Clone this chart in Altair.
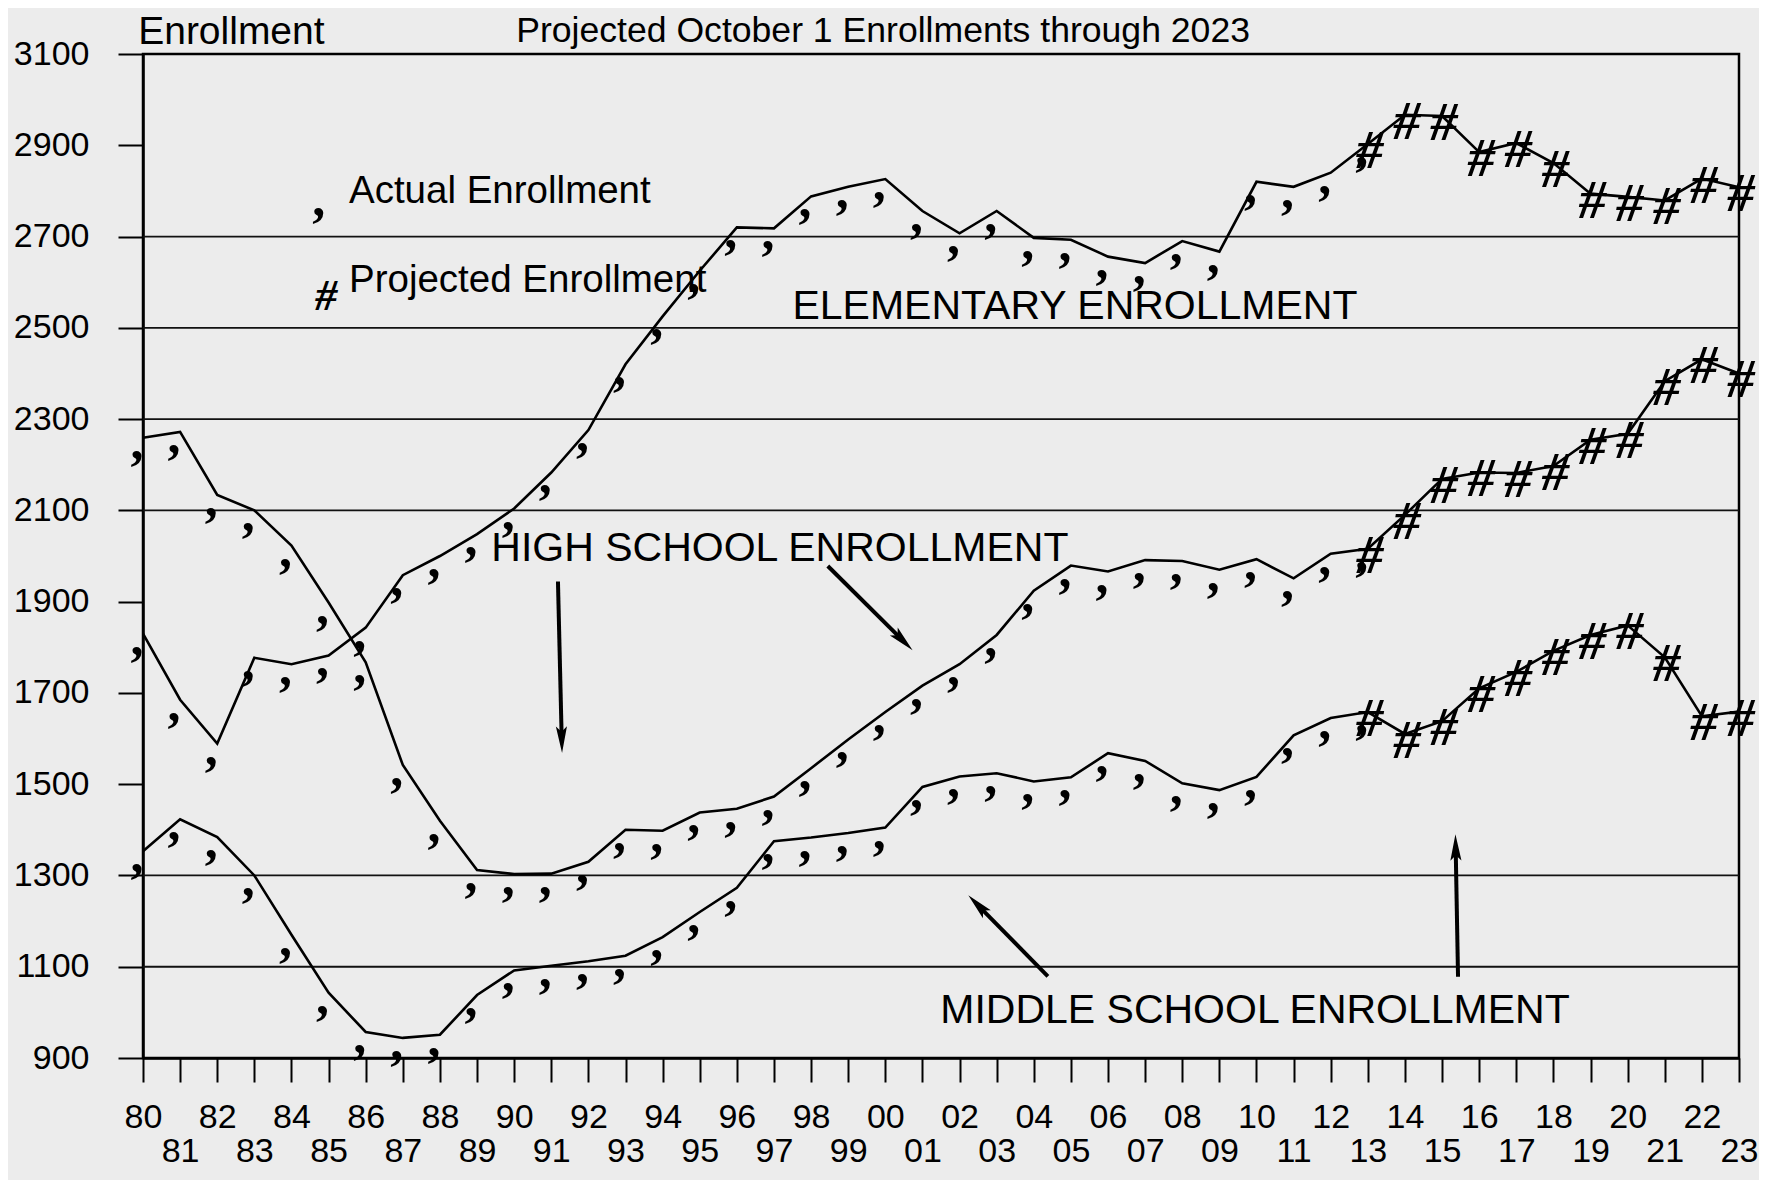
import math
import altair as alt
import pandas as pd

# ---------------- data ----------------
years = list(range(1980, 2024))

elementary = [1830, 1685, 1589, 1777, 1763, 1782, 1843, 1958, 2000, 2048,
              2104, 2183, 2276, 2420, 2525, 2625, 2720, 2718, 2788, 2809,
              2826, 2756, 2707, 2756, 2697, 2693, 2656, 2642, 2690, 2667,
              2820, 2809, 2840, 2903, 2967, 2964, 2885, 2905, 2861, 2794,
              2787, 2779, 2827, 2808]

high_school = [2259, 2272, 2134, 2100, 2023, 1898, 1767, 1542, 1420, 1312,
               1303, 1304, 1330, 1400, 1398, 1438, 1446, 1473, 1535, 1598,
               1658, 1716, 1763, 1827, 1924, 1979, 1966, 1991, 1989, 1970,
               1993, 1951, 2005, 2016, 2090, 2169, 2183, 2182, 2197, 2255,
               2268, 2383, 2431, 2400]

middle_school = [1353, 1423, 1384, 1300, 1170, 1043, 957, 944, 951, 1038,
                 1092, 1102, 1112, 1124, 1165, 1220, 1273, 1375, 1383, 1393,
                 1405, 1494, 1517, 1524, 1506, 1515, 1568, 1551, 1502, 1487,
                 1516, 1607, 1645, 1658, 1610, 1638, 1710, 1746, 1792, 1827,
                 1848, 1778, 1649, 1659]

last_actual_year = 2013
first_projected_year = 2013

y_ticks = list(range(900, 3101, 200))
grid_values = [1100, 1300, 2100, 2300, 2500, 2700]

label_text = ["ELEMENTARY ENROLLMENT", "HIGH SCHOOL ENROLLMENT", "MIDDLE SCHOOL ENROLLMENT"]
label_year = [2005.11, 1997.16, 2009.96]
label_value = [2519, 1989, 977]

legend_text = ["Actual Enrollment", "Projected Enrollment"]
legend_text_year = [1985.55, 1985.55]
legend_text_value = [2774, 2579]
legend_marker = [",", "#"]
legend_marker_year = [1984.90, 1984.88]
legend_marker_value = [2790, 2587]

header_text = ["Enrollment", "Projected October 1 Enrollments through 2023"]
header_year = [1979.87, 1999.94]
header_value = [3122, 3126]
header_align = ["left", "center"]

arrow_tail_year = [1991.18, 1998.45, 2004.38, 2015.43]
arrow_tail_value = [1944, 1978, 1079, 1078]
arrow_tip_year = [1991.29, 2000.73, 2002.24, 2015.36]
arrow_tip_value = [1569, 1794, 1256, 1390]

# ---------------- layout ----------------
W, H = 1596, 1004
X_DOMAIN = [1980, 2023]
Y_DOMAIN = [900, 3100]
px_per_year = W / (X_DOMAIN[1] - X_DOMAIN[0])
px_per_unit = H / (Y_DOMAIN[1] - Y_DOMAIN[0])

SANS = "Liberation Sans"
SERIF = "Liberation Serif"

# ---------------- tables ----------------
series_names = ["Elementary", "High School", "Middle School"]
series_vals = [elementary, high_school, middle_school]
rows = []
for name, vals in zip(series_names, series_vals):
    for yr, v in zip(years, vals):
        rows.append({"series": name, "year": yr, "value": v})
df = pd.DataFrame(rows)
df_actual = df[df["year"] <= last_actual_year]
df_proj = df[df["year"] >= first_projected_year]

df_grid = pd.DataFrame({"value": grid_values})
df_labels = pd.DataFrame({"text": label_text, "year": label_year, "value": label_value})
df_leg_text = pd.DataFrame({"text": legend_text, "year": legend_text_year, "value": legend_text_value})
df_leg_mark = pd.DataFrame({"text": legend_marker, "year": legend_marker_year, "value": legend_marker_value})
df_header = pd.DataFrame({"text": header_text, "year": header_year, "value": header_value,
                          "align": header_align})

HEAD_HALF = 13.0
arrows = []
for ty, tv, hy, hv in zip(arrow_tail_year, arrow_tail_value, arrow_tip_year, arrow_tip_value):
    dx = (hy - ty) * px_per_year
    dy = -(hv - tv) * px_per_unit
    L = math.hypot(dx, dy)
    ux, uy = dx / L, dy / L
    ang = math.degrees(math.atan2(ux, -uy)) % 360
    cy = hy - HEAD_HALF * ux / px_per_year
    cv = hv + HEAD_HALF * uy / px_per_unit
    arrows.append({"year": ty, "value": tv, "year2": cy, "value2": cv, "angle": ang})
df_arrows = pd.DataFrame(arrows)

# ---------------- scales / axes ----------------
x_scale = alt.Scale(domain=X_DOMAIN, nice=False, zero=False)
y_scale = alt.Scale(domain=Y_DOMAIN, nice=False, zero=False)

x_axis = alt.Axis(
    values=years,
    labelExpr="substring(toString(datum.value), 2, 4)",
    tickSize=24, tickWidth=2, tickColor="black",
    domainColor="black", domainWidth=2.5,
    labelFont=SANS, labelFontSize=34, labelColor="black",
    labelOverlap=False, labelFlush=False,
    labelPadding={"condition": {"test": "datum.value % 2 == 1", "value": 52}, "value": 18},
    grid=False, title=None,
)
y_axis = alt.Axis(
    values=y_ticks, format="d",
    tickSize=25, tickWidth=2, tickColor="black",
    domainColor="black", domainWidth=2.5,
    labelFont=SANS, labelFontSize=34, labelColor="black", labelPadding=29,
    labelOverlap=False, grid=False, title=None,
)

X = alt.X("year:Q", scale=x_scale, axis=x_axis)
Y = alt.Y("value:Q", scale=y_scale, axis=y_axis)

grid = alt.Chart(df_grid).mark_rule(color="#111111", strokeWidth=1.8).encode(y=Y)

lines = alt.Chart(df).mark_line(color="black", strokeWidth=2.6, strokeJoin="miter").encode(
    x=X, y=Y, detail="series:N",
)

commas = alt.Chart(df_actual).mark_text(
    text=",", font=SERIF, fontWeight="bold", fontSize=52, color="black",
    align="center", baseline="alphabetic", dx=-6, dy=21,
).encode(x=X, y=Y)

hashes = alt.Chart(df_proj).mark_text(
    text="#", font=SERIF, fontWeight="bold", fontStyle="italic", fontSize=54, color="black",
    align="center", baseline="alphabetic", dx=2, dy=24,
).encode(x=X, y=Y)

labels = alt.Chart(df_labels).mark_text(
    font=SANS, fontSize=41, color="black", align="center", baseline="alphabetic",
).encode(x=X, y=Y, text="text:N")

leg_text = alt.Chart(df_leg_text).mark_text(
    font=SANS, fontSize=38.5, color="black", align="left", baseline="alphabetic",
).encode(x=X, y=Y, text="text:N")

leg_comma = alt.Chart(df_leg_mark[df_leg_mark["text"] == ","]).mark_text(
    font=SERIF, fontWeight="bold", fontSize=52, color="black",
    align="center", baseline="alphabetic", dx=-6, dy=21,
).encode(x=X, y=Y, text="text:N")

leg_hash = alt.Chart(df_leg_mark[df_leg_mark["text"] == "#"]).mark_text(
    font=SERIF, fontWeight="bold", fontStyle="italic", fontSize=44, color="black",
    align="center", baseline="alphabetic", dx=2, dy=22,
).encode(x=X, y=Y, text="text:N")

header_left = alt.Chart(df_header[df_header["align"] == "left"]).mark_text(
    font=SANS, fontSize=39, color="black", align="left", baseline="alphabetic",
).encode(x=X, y=Y, text="text:N")

header_center = alt.Chart(df_header[df_header["align"] == "center"]).mark_text(
    font=SANS, fontSize=35.6, color="black", align="center", baseline="alphabetic",
).encode(x=X, y=Y, text="text:N")

arrow_shafts = alt.Chart(df_arrows).mark_rule(color="black", strokeWidth=4).encode(
    x=X, y=Y, x2="year2:Q", y2="value2:Q"
)
arrow_heads = alt.Chart(df_arrows).mark_point(
    shape="M0,-1L0.42,1L0,0.6L-0.42,1Z", filled=True, color="black", opacity=1, size=700,
).encode(
    x=alt.X("year2:Q", scale=x_scale, axis=x_axis),
    y=alt.Y("value2:Q", scale=y_scale, axis=y_axis),
    angle=alt.Angle("angle:Q", scale=None),
)

chart = alt.layer(
    grid, lines, commas, hashes, labels, leg_text, leg_comma, leg_hash,
    header_left, header_center, arrow_shafts, arrow_heads,
).properties(
    width=W, height=H,
    autosize=alt.AutoSizeParams(type="none"),
    padding={"left": 135, "top": 46, "right": 20, "bottom": 122},
    background="#ececec",
).configure_view(
    stroke="black", strokeWidth=2.5
)

chart.save("out.html", embed_options={"renderer": "svg", "actions": False})
